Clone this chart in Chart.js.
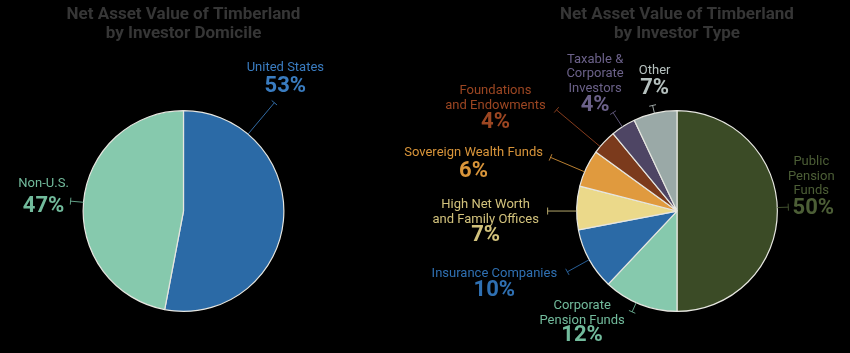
<!DOCTYPE html>
<html>
<head>
<meta charset="utf-8">
<script src="https://cdn.jsdelivr.net/npm/chart.js@4/dist/chart.umd.min.js"></script>
<style>
	html, body { margin: 0; padding: 0; background: #000; }
	#wrap { position: relative; width: 850px; height: 353px; }
	#wrap canvas { position: absolute; left: 0; top: 0; }
</style>
</head>
<body>
<div id="wrap">
	<canvas id="DomicileChart" width="850" height="353"></canvas>
	<canvas id="TypeChart" width="850" height="353"></canvas>
</div>
<script>
// --- data (left pie) ---
const domicileLabels = [['United States'], ['Non-U.S.']];
const domicileValues = [53, 47];
const domicileColors = ['#2b6aa6', '#86c9ad'];
const domicileTextColors = ['#3a7cc0', '#72bb9c'];

// --- data (right pie) ---
const typeLabels = [
	['Public', 'Pension', 'Funds'],
	['Corporate', 'Pension Funds'],
	['Insurance Companies'],
	['High Net Worth', 'and Family Offices'],
	['Sovereign Wealth Funds'],
	['Foundations', 'and Endowments'],
	['Taxable &', 'Corporate', 'Investors'],
	['Other']
];
const typeValues = [50, 12, 10, 7, 6, 4, 4, 7];
const typeColors = ['#3b4b26', '#86c9ad', '#2b6aa6', '#ebd98a', '#e09a3e', '#7b3a1c', '#4e4564', '#9aa9a7'];
const typeTextColors = ['#4c5e36', '#72bb9c', '#2f70b2', '#d2c27c', '#d9953a', '#9c4622', '#6b6189', '#b5c0be'];

// --- label layout: leader angle (deg from top, clockwise), leader length,
// name offset and percent offset from the leader end ---
const domicileCallouts = [
	{ angle: 40, len: 41, name: [11, -35], pct: [11, -16] },
	{ angle: 275, len: 13, name: [-27, -17], pct: [-27, 5] }
];
const typeCallouts = [
	{ angle: 88, len: 11, name: [23, -45], pct: [25, 1] },
	{ angle: 204, len: 10, name: [-50, -6], pct: [-50, 24] },
	{ angle: 241, len: 25, name: [-73, 2], pct: [-73, 19] },
	{ angle: 270, len: 29, name: [-62, -6], pct: [-62, 24] },
	{ angle: 293, len: 37, name: [-77, -5], pct: [-77, 14] },
	{ angle: 310, len: 57, name: [-61, -19], pct: [-61, 13] },
	{ angle: 327, len: 17, name: [-18, -53], pct: [-18, -7] },
	{ angle: 347, len: 8, name: [2, -35], pct: [2, -17] }
];

const FONT = 'Roboto, "Noto Sans", sans-serif';
const LINE_H = 14.5;

const calloutPlugin = {
	id: 'callouts',
	afterDatasetsDraw(chart, _args, opts) {
		const ctx = chart.ctx;
		const meta = chart.getDatasetMeta(0);
		const labels = chart.data.labels;
		const values = chart.data.datasets[0].data;
		meta.data.forEach((arc, i) => {
			const c = opts.callouts[i];
			if (!c) return;
			const color = opts.textColors[i];
			const a = c.angle * Math.PI / 180;
			const sx = Math.sin(a), cy = -Math.cos(a);
			const r = arc.outerRadius;
			const x0 = arc.x + r * sx, y0 = arc.y + r * cy;
			const x1 = arc.x + (r + c.len) * sx, y1 = arc.y + (r + c.len) * cy;

			ctx.save();
			ctx.strokeStyle = color;
			ctx.globalAlpha = 0.85;
			ctx.lineWidth = 1;
			ctx.beginPath();
			ctx.moveTo(x0, y0);
			ctx.lineTo(x1, y1);
			// small tick across the leader end
			ctx.moveTo(x1 - 3.5 * cy, y1 + 3.5 * sx);
			ctx.lineTo(x1 + 3.5 * cy, y1 - 3.5 * sx);
			ctx.stroke();
			ctx.globalAlpha = 1;

			ctx.fillStyle = color;
			ctx.textAlign = 'center';
			ctx.textBaseline = 'middle';
			ctx.font = '13px ' + FONT;
			labels[i].forEach((line, k) => {
				ctx.fillText(line, x1 + c.name[0], y1 + c.name[1] + k * LINE_H);
			});
			ctx.font = 'bold 22px ' + FONT;
			ctx.fillText(values[i] + '%', x1 + c.pct[0], y1 + c.pct[1]);
			ctx.restore();
		});
	}
};

function buildPie(canvas, { labels, values, colors, textColors, callouts, title, padding }) {
	return new Chart(canvas, {
		type: 'pie',
		data: {
			labels,
			datasets: [{
				data: values,
				backgroundColor: colors,
				borderColor: '#e6e6e0',
				borderWidth: 1.2
			}]
		},
		options: {
			responsive: false,
			animation: false,
			devicePixelRatio: 1,
			events: [],
			layout: { padding },
			plugins: {
				legend: { display: false },
				tooltip: { enabled: false },
				title: {
					display: true,
					text: title,
					color: '#363636',
					font: { family: FONT, size: 17, weight: 'bold', lineHeight: 1.12 },
					padding: { top: 5, bottom: 67 }
				},
				callouts: { callouts, textColors }
			}
		},
		plugins: [calloutPlugin]
	});
}

buildPie(document.getElementById('DomicileChart'), {
	labels: domicileLabels,
	values: domicileValues,
	colors: domicileColors,
	textColors: domicileTextColors,
	callouts: domicileCallouts,
	title: ['Net Asset Value of Timberland', 'by Investor Domicile'],
	padding: { left: 0, right: 483, top: 0, bottom: 41 }
});

buildPie(document.getElementById('TypeChart'), {
	labels: typeLabels,
	values: typeValues,
	colors: typeColors,
	textColors: typeTextColors,
	callouts: typeCallouts,
	title: ['Net Asset Value of Timberland', 'by Investor Type'],
	padding: { left: 504, right: 0, top: 0, bottom: 41 }
});
</script>
</body>
</html>
